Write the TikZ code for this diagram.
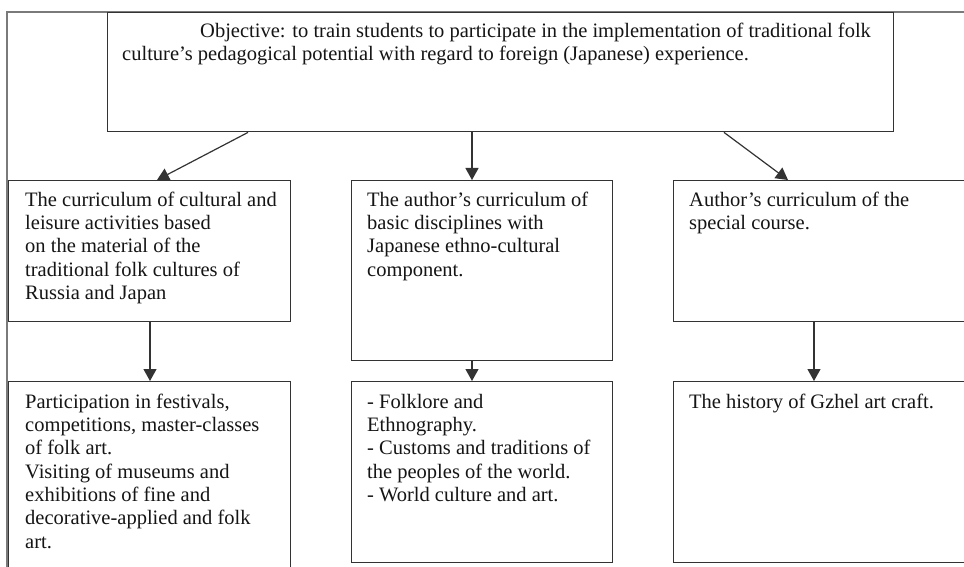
\documentclass[tikz,border=0pt]{standalone}
\usepackage{fontspec}
\setmainfont{Liberation Serif}
\usetikzlibrary{arrows.meta}
\definecolor{linec}{HTML}{333333}
\definecolor{framec}{HTML}{7A7A7A}
\definecolor{textc}{HTML}{151515}
\tikzset{
  box/.style={draw=linec, line width=1.4pt, rectangle, inner sep=0pt, anchor=north west},
  txt/.style={inner sep=0pt, anchor=north west, align=left, text=textc,
    font=\fontsize{20.5}{23.3}\selectfont},
  arr/.style={draw=linec, line width=1.2pt, -{Triangle[length=12pt,width=13pt]}}
}
\begin{document}
\begin{tikzpicture}[x=1pt,y=-1pt]
\clip (0,0) rectangle (964,567);
\fill[white] (0,0) rectangle (964,567);
% outer frame
\draw[framec, line width=1.3pt] (7,620) -- (7,12) -- (1000,12);
% boxes
\node[box, minimum width=786pt, minimum height=119pt] (obj) at (107,12) {};
\node[box, minimum width=282pt, minimum height=141pt] (b11) at (8,180) {};
\node[box, minimum width=261pt, minimum height=180pt] (b12) at (351,180) {};
\node[box, minimum width=340pt, minimum height=141pt] (b13) at (673,180) {};
\node[box, minimum width=282pt, minimum height=240pt] (b21) at (8,381) {};
\node[box, minimum width=261pt, minimum height=181pt] (b22) at (351,381) {};
\node[box, minimum width=340pt, minimum height=181pt] (b23) at (673,381) {};
% texts
\node[txt] (tobj) at (122,20.5) {\strut\hspace{78pt}Objective: to train students to participate in the implementation of traditional folk\\culture’s pedagogical potential with regard to foreign (Japanese) experience.};
\node[txt] (t11) at (25,189.7) {\strut The curriculum of cultural and\\leisure activities based\\on the material of the\\traditional folk cultures of\\Russia and Japan};
\node[txt] (t12) at (367,189.7) {\strut The author’s curriculum of\\basic disciplines with\\Japanese ethno-cultural\\component.};
\node[txt] (t13) at (689,189.7) {\strut Author’s curriculum of the\\special course.};
\node[txt] (t21) at (25,391.7) {\strut Participation in festivals,\\competitions, master-classes\\of folk art.\\Visiting of museums and\\exhibitions of fine and\\decorative-applied and folk\\art.};
\node[txt] (t22) at (367,391.7) {\strut - Folklore and\\Ethnography.\\- Customs and traditions of\\the peoples of the world.\\- World culture and art.};
\node[txt] (t23) at (689,391.7) {\strut The history of Gzhel art craft.};
% connectors
\draw[arr] ([xshift=141pt]obj.south west) -- ([xshift=149pt]b11.north west);
\draw[arr] ([xshift=365pt]obj.south west) -- ([xshift=121pt]b12.north west);
\draw[arr] ([xshift=617pt]obj.south west) -- ([xshift=115pt]b13.north west);
\draw[arr] ([xshift=142pt]b11.south west) -- ([xshift=142pt]b21.north west);
\draw[arr] ([xshift=121pt]b12.south west) -- ([xshift=121pt]b22.north west);
\draw[arr] ([xshift=141pt]b13.south west) -- ([xshift=141pt]b23.north west);
\end{tikzpicture}
\end{document}
